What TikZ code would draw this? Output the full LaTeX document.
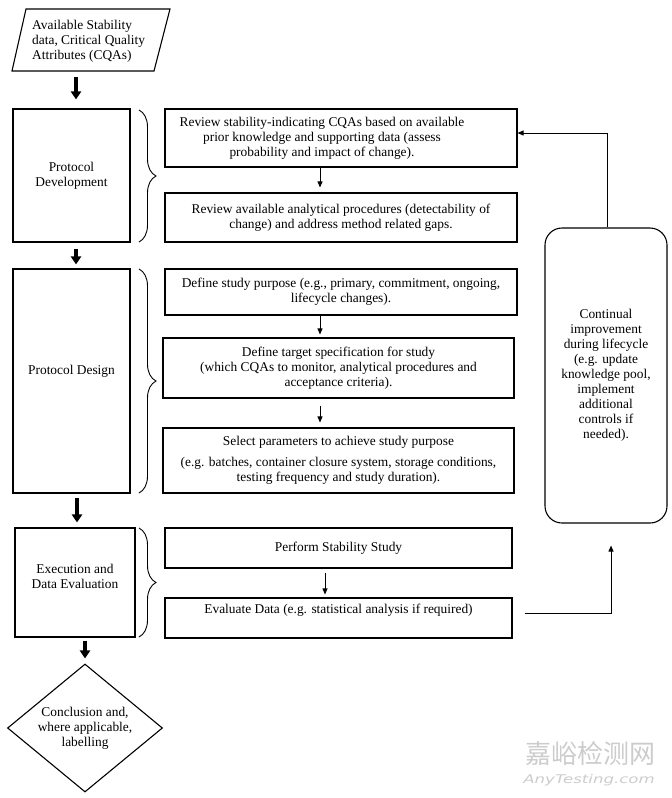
\documentclass[tikz,border=0pt]{standalone}
\usepackage{fontspec}
\setmainfont{Liberation Serif}
\newfontfamily\cjkwm{Noto Sans CJK SC}
\newfontfamily\wmfont{DejaVu Sans}
\usepackage{graphicx}
\usetikzlibrary{arrows.meta,shapes.geometric,decorations.pathreplacing,calc}
\begin{document}
\begin{tikzpicture}[x=1pt,y=-1pt,
  base/.style={font=\fontsize{13.4}{15}\selectfont},
  box/.style={base,draw,line width=1.1pt,rectangle,inner sep=0pt,align=center},
  bigarrow/.style={line width=3.5pt,-{Triangle[width=10pt,length=8pt]}},
  smallarrow/.style={line width=0.8pt,-{Triangle[width=5pt,length=6pt]}},
  fb/.style={line width=0.9pt},
  bracestyle/.style={line width=0.9pt,decorate,decoration={brace,amplitude=17pt}},
  wm/.style={text=black!20,inner sep=0pt},
]
\useasboundingbox (0,0) rectangle (672,798);

% input parallelogram
\draw[line width=1.1pt] (26,9) -- (170,9) -- (154,71) -- (12,71) -- cycle;
\node[base,align=left,anchor=west,inner sep=0pt] (inp) at (32,41) {Available Stability\\data, Critical Quality\\Attributes (CQAs)};
\coordinate (inpb) at (76,71);

% left stage boxes
\node[box,minimum width=117pt,minimum height=133pt] (pdev) at (71.5,175.5) {Protocol\\Development};
\node[box,minimum width=117pt,minimum height=224pt,text depth=23pt] (pdes) at (71.5,381) {Protocol Design};
\node[box,minimum width=120pt,minimum height=109pt,text depth=20pt] (exec) at (75,582.5) {\begin{tabular}{@{}c@{}}Execution and\\Data Evaluation\end{tabular}};
\node[base,draw,line width=1.1pt,diamond,shape aspect=1.21,inner sep=-4pt,minimum width=155pt,minimum height=128pt,align=center] (concl) at (85,728) {Conclusion and,\\where applicable,\\labelling};

% right step boxes
\node[box,minimum width=352pt,minimum height=58pt] (R1) at (341,138) {\begin{tabular}{@{}c@{}}Review stability-indicating CQAs based on available\\prior knowledge and supporting data (assess\\probability and impact of change).\end{tabular}\hspace*{38pt}};
\node[box,minimum width=352pt,minimum height=49pt] (R2) at (341,217.5) {Review available analytical procedures (detectability of\\change) and address method related gaps.};
\node[box,minimum width=352pt,minimum height=46pt] (D1) at (341,292) {Define study purpose (e.g., primary, commitment, ongoing,\\lifecycle changes).};
\node[box,minimum width=351pt,minimum height=60pt] (D2) at (338.5,368) {Define target specification for study\\(which CQAs to monitor, analytical procedures and\\acceptance criteria).};
\node[box,minimum width=351pt,minimum height=65pt] (D3) at (338.5,460.5) {Select parameters to achieve study purpose\\[6pt](e.g. batches, container closure system, storage conditions,\\testing frequency and study duration).};
\node[box,minimum width=347pt,minimum height=40pt] (E1) at (338.5,548) {Perform Stability Study};
\node[box,minimum width=347pt,minimum height=40pt,text depth=18pt] (E2) at (338.5,618) {Evaluate Data (e.g. statistical analysis if required)};

% continual improvement
\node[box,rounded corners=17pt,minimum width=122pt,minimum height=295pt] (cont) at (606,375.5) {Continual\\improvement\\during lifecycle\\(e.g. update\\knowledge pool,\\implement\\additional\\controls if\\needed).};

% braces
\draw[bracestyle] (139,110) -- (139,242);
\draw[bracestyle] (139,269) -- (139,493);
\draw[bracestyle] (139,528) -- (139,637);

% big arrows
\coordinate (c76) at (76,0);
\coordinate (c77) at (77,0);
\coordinate (c85) at (85,0);
\draw[bigarrow,shorten <=6pt,shorten >=9pt] (inpb) -- (inpb |- pdev.north);
\draw[bigarrow,shorten <=6pt,shorten >=4pt] (pdev.south -| c76) -- (pdes.north -| c76);
\draw[bigarrow,shorten <=4pt,shorten >=5pt] (pdes.south -| c77) -- (exec.north -| c77);
\draw[bigarrow,shorten <=3pt,shorten >=5pt] (exec.south -| c85) -- (concl.north);

% small arrows
\coordinate (c320) at (320,0);
\coordinate (c325) at (325,0);
\draw[smallarrow,shorten >=5pt] (R1.south -| c320) -- (R2.north -| c320);
\draw[smallarrow,shorten >=3pt] (D1.south -| c320) -- (D2.north -| c320);
\draw[smallarrow,shorten <=7pt,shorten >=5pt] (D2.south -| c320) -- (D3.north -| c320);
\draw[smallarrow,shorten <=4pt,shorten >=3pt] (E1.south -| c325) -- (E2.north -| c325);

% feedback loop
\coordinate (fbA) at ($(E2.east)+(12,-5)$);
\draw[fb,-{Triangle[width=5pt,length=6pt]},shorten >=22pt] (fbA) -| ([xshift=5pt]cont.south);
\draw[fb,-{Triangle[width=5pt,length=6pt]}] ([xshift=1pt]cont.north) |- ([yshift=5pt]R1.east);

% watermark
\node[wm,font=\cjkwm\fontsize{26}{26}\selectfont] (wm1) at (590,754) {嘉峪检测网};
\node[wm,font=\wmfont\itshape\fontsize{12}{12}\selectfont] (wm2) at (589,780) {\scalebox{1.38}[1]{AnyTesting.com}};
\end{tikzpicture}
\end{document}
